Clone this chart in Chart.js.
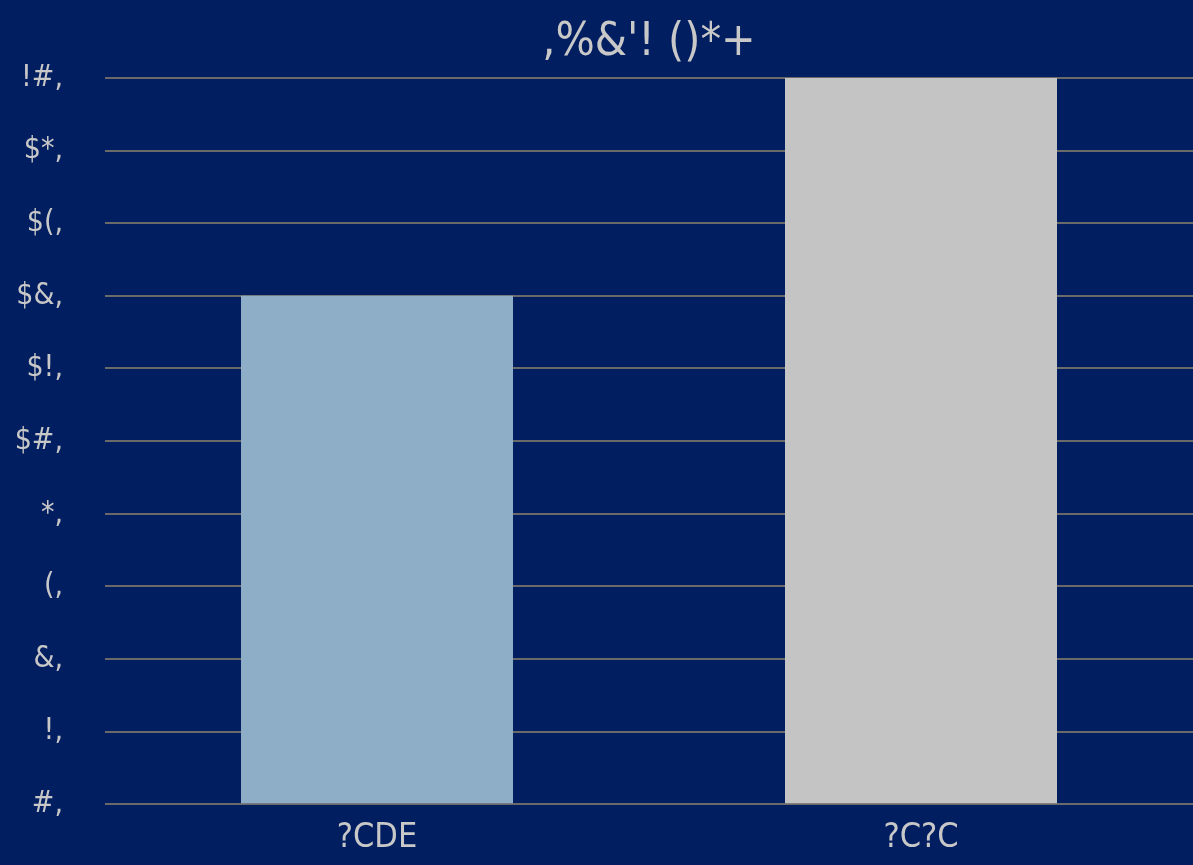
<!DOCTYPE html>
<html>
<head>
<meta charset="utf-8">
<script src="https://cdn.jsdelivr.net/npm/chart.js@4"></script>
<style>
  html, body { margin: 0; padding: 0; background: #001e60; }
  #wrap { width: 1193px; height: 865px; }
</style>
</head>
<body>
<div id="wrap"><canvas id="chart"></canvas></div>
<script>
const categories = ['?CDE', '?C?C'];
const values = [140, 200];
const barColors = ['#8eadc6', '#c4c4c4'];
const tickLabels = ['#,', '!,', '&,', '(,', '*,', '$#,', '$!,', '$&,', '$(,', '$*,', '!#,'];
const chartTitle = ',%&\'! ()*+';

const FONT = '"Liberation Sans Narrow", "DejaVu Sans Condensed", "Liberation Sans", sans-serif';
const TEXT = '#c8c8c8';

// titre centré sur la zone du graphique
const titlePlugin = {
    id: 'areaTitle',
    afterDraw(chart) {
        const ctx = chart.ctx;
        const a = chart.chartArea;
        ctx.save();
        ctx.fillStyle = TEXT;
        ctx.font = '46px ' + FONT;
        ctx.textAlign = 'center';
        ctx.textBaseline = 'alphabetic';
        ctx.fillText(chartTitle, (105 + 1193) / 2, 55);
        ctx.restore();
    }
};

new Chart(document.getElementById('chart'), {
    type: 'bar',
    data: {
        labels: categories,
        datasets: [{
            data: values,
            backgroundColor: barColors,
            borderWidth: 0,
            barPercentage: 0.5,
            categoryPercentage: 1
        }]
    },
    options: {
        responsive: true,
        maintainAspectRatio: false,
        animation: false,
        layout: { padding: { top: 78, left: 0, right: -5, bottom: 0 } },
        plugins: {
            legend: { display: false },
            tooltip: { enabled: false }
        },
        scales: {
            x: {
                grid: { display: false },
                border: { display: false },
                ticks: { color: TEXT, font: { family: FONT, size: 34 }, padding: 6 }
            },
            y: {
                min: 0,
                max: 200,
                afterBuildTicks(axis) {
                    axis.ticks = tickLabels.map((t, i) => ({ value: i * 20 }));
                },
                afterFit(axis) {
                    axis.width = 105;
                },
                grid: { color: '#6a6a6a', lineWidth: 2, drawTicks: false },
                border: { display: false },
                ticks: {
                    color: TEXT,
                    font: { family: FONT, size: 30 },
                    padding: 42,
                    callback: (v, i) => tickLabels[i]
                }
            }
        }
    },
    plugins: [titlePlugin]
});
</script>
</body>
</html>
